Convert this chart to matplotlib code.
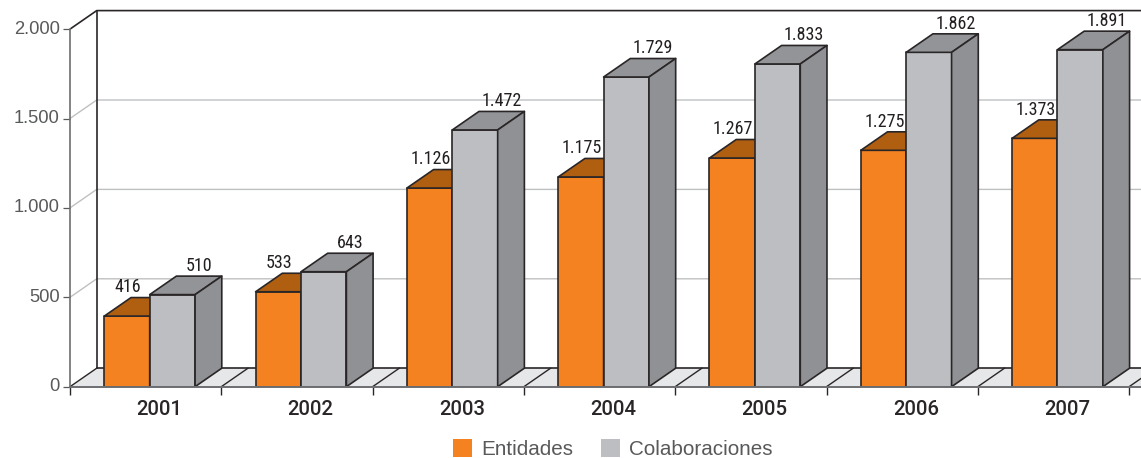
import matplotlib
matplotlib.use("Agg")
import matplotlib.pyplot as plt
from matplotlib.patches import Polygon, Patch

years = ["2001", "2002", "2003", "2004", "2005", "2006", "2007"]
# printed numbers
entidades_labels = ["416", "533", "1.126", "1.175", "1.267", "1.275", "1.373"]
colab_labels = ["510", "643", "1.472", "1.729", "1.833", "1.862", "1.891"]
# bar heights as drawn in the picture (they don't follow the printed numbers exactly)
entidades = [395, 531, 1111, 1173, 1279, 1322, 1389]
colaboraciones = [515, 643, 1436, 1732, 1805, 1870, 1885]
yticks = [0, 500, 1000, 1500, 2000]
ytick_labels = ["0", "500", "1.000", "1.500", "2.000"]

ORANGE = "#F58220"
ORANGE_TOP = "#B05E10"
GREY = "#BCBEC1"
GREY_TOP = "#929497"
GREY_SIDE = "#8F9194"
EDGE = "#2A2627"
GRID = "#BFC0C2"
FLOOR = "#E6E7E8"
TEXT = "#58595B"

W, H = 1141, 458
CAT = 151.3          # px per year
PX_VAL = 0.1788      # px per unit
X0, Y0 = 70, 386.7   # pixel position of the origin
DX = 26.7 / CAT      # fake 3d depth in data units
DY = 18.5 / PX_VAL
BAR = 0.3
START = 0.2267

fig = plt.figure(figsize=(W / 100, H / 100), dpi=100)
ax = fig.add_axes([X0 / W, (H - Y0) / H, (W - X0) / W, Y0 / H])
ax.set_xlim(0, (W - X0) / CAT)
ax.set_ylim(0, Y0 / PX_VAL)
ax.patch.set_visible(False)


def poly(points, color, lw=1.2, ec=EDGE, z=3):
    ax.add_patch(Polygon(points, closed=True, fc=color, ec=ec, lw=lw, zorder=z, joinstyle="round"))


def bar3d(x, h, front, top, side, z):
    poly([(x, 0), (x + BAR, 0), (x + BAR, h), (x, h)], front, z=z)
    poly([(x, h), (x + BAR, h), (x + BAR + DX, h + DY), (x + DX, h + DY)], top, z=z)
    poly([(x + BAR, 0), (x + BAR + DX, DY), (x + BAR + DX, h + DY), (x + BAR, h)], side, z=z)


# floor
xmax = ax.get_xlim()[1] + 1
poly([(0, 0), (xmax, 0), (xmax + DX, DY), (DX, DY)], FLOOR, lw=0, ec="none", z=1)
ax.plot([DX, xmax], [DY, DY], color=EDGE, lw=1.2, zorder=1.5)
for k in range(len(years) + 1):
    ax.plot([k, k + DX], [0, DY], color=EDGE, lw=1.0, zorder=1.5)

# wall
for v in yticks:
    if v in (0, 2000):
        continue
    ax.plot([0, DX, xmax], [v, v + DY, v + DY], color=GRID, lw=1.0, zorder=1)
ax.plot([0, DX, xmax], [2000, 2000 + DY, 2000 + DY], color=EDGE, lw=1.2, zorder=1.5)
ax.plot([DX, DX], [DY, 2000 + DY], color=EDGE, lw=1.2, zorder=1.5)

label_font = dict(family="Roboto Condensed", weight=400, fontsize=13,
                  color="#231F20", ha="center", va="center", zorder=6)
for i in range(len(years)):
    x1 = i + START
    x2 = x1 + BAR
    bar3d(x1, entidades[i], ORANGE, ORANGE_TOP, ORANGE_TOP, 3 + i * 0.1)
    bar3d(x2, colaboraciones[i], GREY, GREY_TOP, GREY_SIDE, 3.05 + i * 0.1)
    ax.text(x1 + 0.155, entidades[i] + 160, entidades_labels[i], **label_font)
    ax.text(x2 + 0.325, colaboraciones[i] + 160, colab_labels[i], **label_font)

# axes
for s in ("top", "right"):
    ax.spines[s].set_visible(False)
ax.spines["left"].set_bounds(0, 2000)
ax.spines["left"].set_color("#6D6E71")
ax.spines["left"].set_linewidth(1.2)
ax.spines["bottom"].set_color("#6D6E71")
ax.spines["bottom"].set_linewidth(1.4)
ax.spines["bottom"].set_zorder(5)

ax.set_yticks(yticks)
ax.set_yticklabels(ytick_labels, family="Liberation Sans", fontsize=13.2, color=TEXT, va="center")
ax.tick_params(axis="y", length=5, width=0.9, color="#58595B", pad=2.5)

ax.set_xticks(range(len(years) + 1))
ax.set_xticklabels([])
ax.tick_params(axis="x", which="major", length=5.5, width=1.0, color="#2A2627")
ax.set_xticks([i + 0.59 for i in range(len(years))], minor=True)
ax.set_xticklabels(years, minor=True, family="Roboto", weight=500, fontsize=14.6, color="#2A2627")
ax.tick_params(axis="x", which="minor", length=0, pad=9.5)

handles = [Patch(fc=ORANGE, ec="none"), Patch(fc=GREY, ec="none")]
leg = fig.legend(handles, ["Entidades", "Colaboraciones"], ncol=2, frameon=False,
                 loc="center", bbox_to_anchor=(613 / W, 1 - 449 / H),
                 prop={"family": "Liberation Sans", "size": 14.9},
                 handlelength=0.92, handleheight=1.0, handletextpad=0.43,
                 columnspacing=1.35, borderpad=0, borderaxespad=0)
for t in leg.get_texts():
    t.set_color(TEXT)

fig.savefig("out.png", dpi=100)
